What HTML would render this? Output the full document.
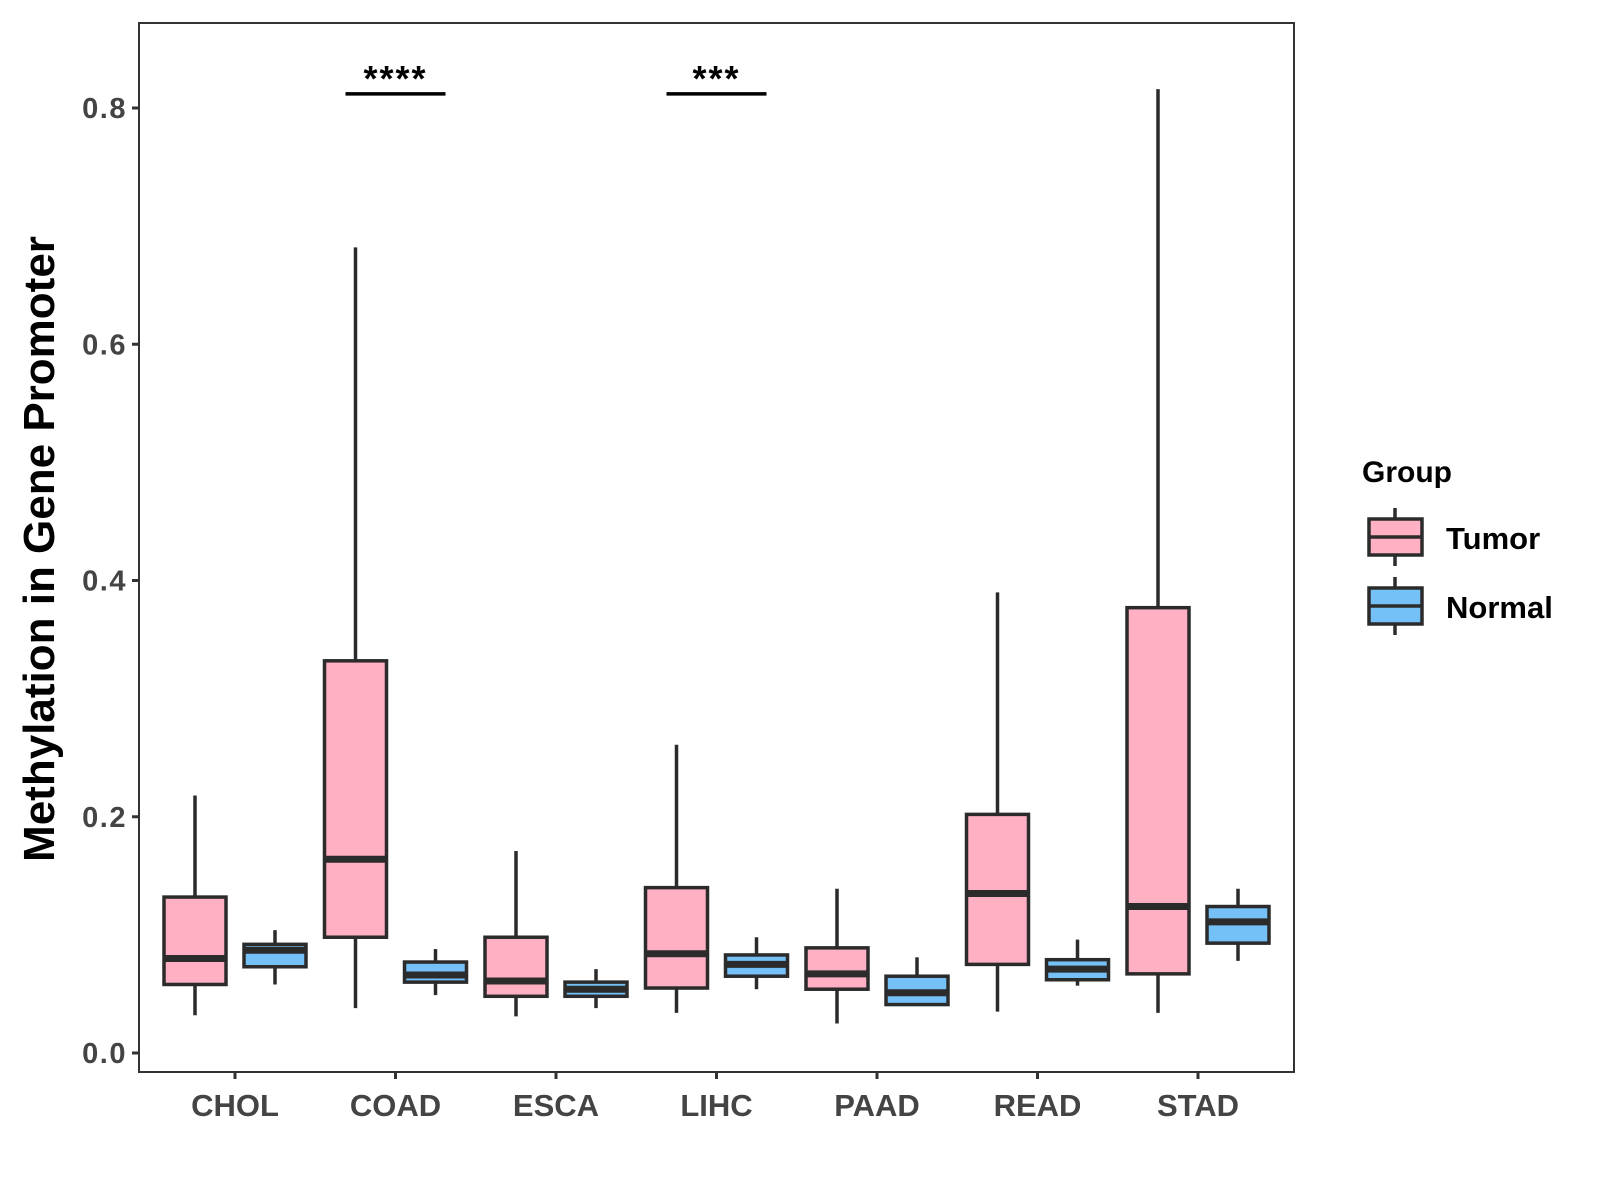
<!DOCTYPE html>
<html><head><meta charset="utf-8"><style>
html,body{margin:0;padding:0;background:#fff}
svg{display:block}
text{font-family:"Liberation Sans",Arial,sans-serif;font-weight:bold}
</style></head><body>
<svg id="chart" width="1600" height="1200" xmlns="http://www.w3.org/2000/svg">
<rect x="139" y="23" width="1155" height="1049" fill="#fff" stroke="#333" stroke-width="2"/>
<g id="marks"></g>
<text transform="translate(54,549) rotate(-90)" text-anchor="middle" font-size="44" fill="#000">Methylation in Gene Promoter</text>
<g>
<text x="1362" y="482" font-size="30" fill="#000">Group</text>
<g>
<line x1="1395" y1="508" x2="1395" y2="566" stroke="#2b2b2b" stroke-width="3.5"/>
<rect x="1369" y="519" width="53" height="36" fill="#FFB0C3" stroke="#2b2b2b" stroke-width="3.5"/>
<line x1="1369" y1="537" x2="1422" y2="537" stroke="#2b2b2b" stroke-width="3.5"/>
<text x="1446" y="549" font-size="31" fill="#000">Tumor</text>
</g>
<g>
<line x1="1395" y1="577" x2="1395" y2="635" stroke="#2b2b2b" stroke-width="3.5"/>
<rect x="1369" y="588" width="53" height="36" fill="#74C0F7" stroke="#2b2b2b" stroke-width="3.5"/>
<line x1="1369" y1="606" x2="1422" y2="606" stroke="#2b2b2b" stroke-width="3.5"/>
<text x="1446" y="618" font-size="31" fill="#000">Normal</text>
</g>
</g>
</svg>
<script>
const categories = ["CHOL","COAD","ESCA","LIHC","PAAD","READ","STAD"];
// [low, q1, median, q3, high]
const tumorStats = [
 [0.032,0.058,0.080,0.132,0.218],
 [0.038,0.098,0.164,0.332,0.682],
 [0.031,0.048,0.061,0.098,0.171],
 [0.034,0.055,0.084,0.140,0.261],
 [0.025,0.054,0.067,0.089,0.139],
 [0.035,0.075,0.135,0.202,0.390],
 [0.034,0.067,0.124,0.377,0.816]
];
const normalStats = [
 [0.058,0.073,0.087,0.092,0.104],
 [0.049,0.060,0.066,0.077,0.088],
 [0.038,0.048,0.054,0.060,0.071],
 [0.054,0.065,0.075,0.083,0.098],
 [0.040,0.041,0.051,0.065,0.081],
 [0.057,0.062,0.071,0.079,0.096],
 [0.078,0.093,0.111,0.124,0.139]
];
const yTicks = [0.0,0.2,0.4,0.6,0.8];
const yTickLabels = ["0.0","0.2","0.4","0.6","0.8"];
const sigCategories = ["COAD","LIHC"];
const sigLabels = ["****","***"];
const sigLevel = 0.812;

const NS="http://www.w3.org/2000/svg";
const g=document.getElementById('marks');
function y(v){return 1053 - v*(1053-108)/0.8;}
function x(i){return 235 + i*160.5;}
function el(tag,attrs,parent){const e=document.createElementNS(NS,tag);for(const k in attrs)e.setAttribute(k,attrs[k]);(parent||g).appendChild(e);return e;}
const stroke="#2b2b2b";
yTicks.forEach((v,i)=>{
  const t=el('line',{x1:132,x2:139,y1:y(v),y2:y(v),stroke:"#333","stroke-width":3});
  
  
  const l=el('text',{x:127,y:y(v)+10,"text-anchor":"end","font-size":29,"letter-spacing":1.5,fill:"#444"});
  l.textContent=yTickLabels[i];
  
  
});
categories.forEach((c,i)=>{
  const t=el('line',{x1:x(i),x2:x(i),y1:1072,y2:1079,stroke:"#333","stroke-width":3});
  
  
  const l=el('text',{x:x(i),y:1116,"text-anchor":"middle","font-size":31,fill:"#444"});
  l.textContent=c;
  
  
});
function box(cx,s,fill,name){
  const grp=el('g',{});
  
  
  el('line',{x1:cx,x2:cx,y1:y(s[4]),y2:y(s[0]),stroke:stroke,"stroke-width":3.5},grp);
  el('rect',{x:cx-31,y:y(s[3]),width:62,height:y(s[1])-y(s[3]),fill:fill,stroke:stroke,"stroke-width":3.5},grp);
  el('line',{x1:cx-31,x2:cx+31,y1:y(s[2]),y2:y(s[2]),stroke:stroke,"stroke-width":7},grp);
}
categories.forEach((c,i)=>{
  box(x(i)-40,tumorStats[i],"#FFB0C3","box-tumor-"+c.toLowerCase());
  box(x(i)+40,normalStats[i],"#74C0F7","box-normal-"+c.toLowerCase());
});
sigCategories.forEach((c,k)=>{
  const i=categories.indexOf(c);
  const l=el('line',{x1:x(i)-50,x2:x(i)+50,y1:y(sigLevel),y2:y(sigLevel),stroke:"#000","stroke-width":3.5});
  
  
  const t=el('text',{x:x(i),y:y(sigLevel)-3,"text-anchor":"middle","font-size":36,"letter-spacing":2,fill:"#000"});
  t.textContent=sigLabels[k];
  
  
});
</script>
</body></html>
